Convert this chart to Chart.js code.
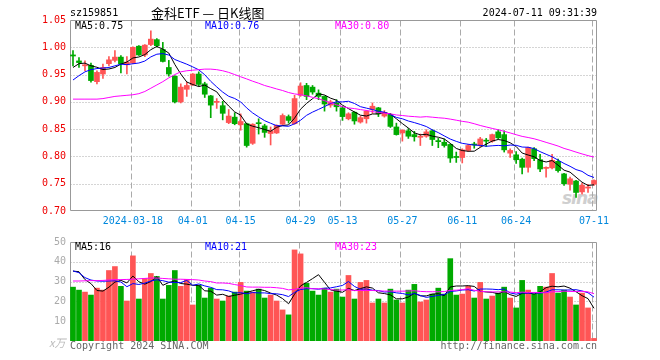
<!DOCTYPE html>
<html>
<head>
<meta charset="utf-8">
<script src="https://cdn.jsdelivr.net/npm/chart.js@4.4.1/dist/chart.umd.min.js"></script>
<style>
  body { margin: 0; background: #fff; }
  #wrap { position: relative; width: 660px; height: 360px; overflow: hidden; background: #fff;
          font: 10px 'DejaVu Sans Mono', monospace; color: #000; }
  .t { position: absolute; white-space: pre; line-height: 12px; }
  canvas { position: absolute; left: 0; }
</style>
</head>
<body>
<div id="wrap">
  <div class="t" style="left:562px;top:188px;font:italic bold 17px 'DejaVu Sans',sans-serif;line-height:20px;color:#cfcfcf;letter-spacing:-1px">sina</div>
  <canvas id="kline" width="660" height="230" style="top:0"></canvas>
  <canvas id="vol" width="660" height="128" style="top:232px"></canvas>

  <div class="t" style="left:70px;top:7px">sz159851</div>
  <div class="t" style="left:151px;top:5px;font:13px 'Noto Sans CJK SC',sans-serif;line-height:16px">金科ETF — 日K线图</div>
  <div class="t" style="right:63px;top:7px">2024-07-11 09:31:39</div>

  <div class="t" style="left:75px;top:20px;color:#000">MA5:0.75</div>
  <div class="t" style="left:205px;top:20px;color:#0000ff">MA10:0.76</div>
  <div class="t" style="left:335px;top:20px;color:#ff00ff">MA30:0.80</div>

  <div class="t" style="left:75px;top:241px;color:#000">MA5:16</div>
  <div class="t" style="left:205px;top:241px;color:#0000ff">MA10:21</div>
  <div class="t" style="left:335px;top:241px;color:#ff00ff">MA30:23</div>

  <div class="t" style="left:49px;top:336px;font:italic 11px 'Noto Sans CJK SC',sans-serif;line-height:13px;color:#bbb">x万</div>
  <div class="t" style="left:70px;top:340px;color:#666">Copyright 2024 SINA.COM</div>
  <div class="t" style="right:63px;top:340px;color:#666">http://finance.sina.com.cn</div>
</div>
<script>
// trading days shown
const dates = [
  '2024-03-04','2024-03-05','2024-03-06','2024-03-07','2024-03-08',
  '2024-03-11','2024-03-12','2024-03-13','2024-03-14','2024-03-15',
  '2024-03-18','2024-03-19','2024-03-20','2024-03-21','2024-03-22',
  '2024-03-25','2024-03-26','2024-03-27','2024-03-28','2024-03-29',
  '2024-04-01','2024-04-02','2024-04-03','2024-04-08','2024-04-09',
  '2024-04-10','2024-04-11','2024-04-12','2024-04-15','2024-04-16',
  '2024-04-17','2024-04-18','2024-04-19','2024-04-22','2024-04-23',
  '2024-04-24','2024-04-25','2024-04-26','2024-04-29','2024-04-30',
  '2024-05-06','2024-05-07','2024-05-08','2024-05-09','2024-05-10',
  '2024-05-13','2024-05-14','2024-05-15','2024-05-16','2024-05-17',
  '2024-05-20','2024-05-21','2024-05-22','2024-05-23','2024-05-24',
  '2024-05-27','2024-05-28','2024-05-29','2024-05-30','2024-05-31',
  '2024-06-03','2024-06-04','2024-06-05','2024-06-06','2024-06-07',
  '2024-06-11','2024-06-12','2024-06-13','2024-06-14','2024-06-17',
  '2024-06-18','2024-06-19','2024-06-20','2024-06-21','2024-06-24',
  '2024-06-25','2024-06-26','2024-06-27','2024-06-28','2024-07-01',
  '2024-07-02','2024-07-03','2024-07-04','2024-07-05','2024-07-08',
  '2024-07-09','2024-07-10','2024-07-11'
];
const tickDates = ['2024-03-18','2024-04-01','2024-04-15','2024-04-29','2024-05-13','2024-05-27','2024-06-11','2024-06-24','2024-07-11'];
const tickLabels = ['2024-03-18','04-01','04-15','04-29','05-13','05-27','06-11','06-24','07-11'];

const opens = [
  0.986,0.975,0.966,0.967,0.937,0.951,0.970,0.976,0.982,0.968,
  0.971,1.002,0.986,1.005,1.014,0.996,0.963,0.947,0.900,0.923,
  0.931,0.951,0.933,0.911,0.899,0.893,0.862,0.872,0.858,0.860,
  0.824,0.861,0.856,0.842,0.843,0.859,0.873,0.860,0.912,0.930,
  0.927,0.916,0.910,0.894,0.898,0.889,0.869,0.881,0.863,0.869,
  0.886,0.889,0.874,0.877,0.854,0.843,0.847,0.840,0.835,0.837,
  0.847,0.829,0.826,0.822,0.800,0.798,0.811,0.822,0.820,0.829,
  0.828,0.845,0.840,0.806,0.803,0.795,0.780,0.814,0.794,0.778,
  0.779,0.791,0.768,0.749,0.755,0.735,0.742,0.749
];
const highs = [
  0.994,0.981,0.975,0.971,0.957,0.969,0.983,0.994,0.985,0.983,
  1.001,1.003,1.005,1.030,1.016,1.009,0.976,0.948,0.933,0.936,
  0.952,0.955,0.936,0.912,0.906,0.901,0.886,0.880,0.878,0.861,
  0.860,0.869,0.859,0.854,0.858,0.878,0.876,0.912,0.935,0.934,
  0.930,0.922,0.911,0.903,0.904,0.892,0.880,0.882,0.874,0.884,
  0.898,0.890,0.884,0.879,0.861,0.849,0.851,0.846,0.841,0.849,
  0.849,0.833,0.832,0.823,0.808,0.814,0.822,0.826,0.835,0.833,
  0.841,0.849,0.847,0.814,0.809,0.797,0.817,0.816,0.804,0.781,
  0.804,0.795,0.769,0.762,0.756,0.751,0.749,0.757
];
const lows = [
  0.966,0.963,0.957,0.936,0.933,0.943,0.966,0.973,0.953,0.951,
  0.970,0.985,0.983,1.003,1.000,0.973,0.947,0.898,0.898,0.910,
  0.930,0.929,0.908,0.871,0.888,0.867,0.860,0.858,0.848,0.817,
  0.822,0.841,0.835,0.821,0.842,0.857,0.861,0.859,0.910,0.904,
  0.914,0.904,0.883,0.890,0.883,0.866,0.867,0.859,0.861,0.861,
  0.879,0.873,0.872,0.853,0.839,0.828,0.833,0.828,0.820,0.835,
  0.820,0.816,0.817,0.789,0.789,0.788,0.809,0.815,0.818,0.818,
  0.826,0.832,0.808,0.798,0.787,0.768,0.771,0.792,0.772,0.762,
  0.777,0.771,0.747,0.738,0.725,0.731,0.734,0.747
];
const closes = [
  0.984,0.972,0.968,0.939,0.954,0.963,0.977,0.982,0.970,0.973,
  1.000,0.986,1.004,1.015,1.003,0.974,0.951,0.900,0.927,0.930,
  0.951,0.932,0.914,0.894,0.901,0.879,0.874,0.860,0.864,0.820,
  0.859,0.860,0.844,0.847,0.857,0.875,0.866,0.906,0.929,0.910,
  0.918,0.910,0.896,0.900,0.891,0.873,0.878,0.865,0.871,0.883,
  0.892,0.878,0.880,0.855,0.840,0.848,0.837,0.836,0.837,0.845,
  0.831,0.827,0.820,0.797,0.798,0.812,0.820,0.821,0.832,0.828,
  0.840,0.834,0.812,0.811,0.794,0.780,0.816,0.796,0.777,0.780,
  0.793,0.774,0.750,0.759,0.734,0.747,0.744,0.756
];
// volume, 万手
const volumes = [
  27.2,25.7,24.7,23.2,26.7,25.7,35.6,37.6,27.6,20.2,
  43.0,21.2,31.6,34.1,32.6,21.2,28.1,35.6,27.6,31.1,
  18.2,28.1,21.7,26.7,21.2,20.2,22.7,24.7,29.6,25.2,
  24.7,26.2,21.7,23.2,20.2,15.7,13.2,46.0,44.0,29.1,
  25.2,23.2,26.7,24.7,26.2,22.2,33.1,21.2,29.6,30.6,
  19.2,21.2,19.2,26.2,20.7,19.2,25.7,28.6,19.7,20.7,
  23.7,26.7,23.7,41.6,23.2,23.7,27.6,21.7,29.6,21.2,
  22.7,24.2,27.2,21.7,16.7,30.6,25.7,23.7,27.6,27.2,
  34.1,24.2,25.7,22.2,18.2,24.2,16.7,1.3
];

// MA values for days whose window starts before 03-04
const ma5Head = [0.963, 0.970, 0.971, 0.966];
const ma10Head = [0.940, 0.948, 0.955, 0.959, 0.961, 0.962, 0.963, 0.966, 0.969];
const ma30Head = [0.905,0.905,0.905,0.905,0.905,0.906,0.908,0.910,0.911,0.912,
                  0.913,0.915,0.919,0.925,0.931,0.937,0.944,0.950,0.955,0.957,
                  0.958,0.959,0.960,0.960,0.959,0.957,0.954,0.950,0.946];
const volMa5Head = [35.3, 35.0, 31.0, 29.0];
const volMa10Head = [35.4, 34.5, 32.0, 30.8, 30.3, 30.2, 30.3, 30.4, 29.8];
const volMa30Head = [30.3,30.3,30.4,30.5,30.5,30.6,30.8,31.0,31.0,31.1,
                     31.2,31.4,31.6,31.8,31.8,31.6,31.4,31.2,31.2,31.1,
                     31.0,30.8,30.3,30.0,29.3,29.3,29.1,28.5,28.0];

const UP = '#ff5555', DOWN = '#00aa00';
const tickIdx = tickDates.map(d => dates.indexOf(d));

function movingAvg(src, n, head) {
  return src.map((_, i) => {
    if (i < n - 1) return head[i];
    let s = 0;
    for (let k = i - n + 1; k <= i; k++) s += src[k];
    return s / n;
  });
}

const colors = closes.map((c, i) => c >= opens[i] ? UP : DOWN);

// grid + frame, drawn under the bars
const frame = {
  id: 'frame',
  beforeDatasetsDraw(chart, args, opts) {
    const { ctx, chartArea: a, scales: { x, y } } = chart;
    const L = Math.round(a.left) + 0.5, R = Math.round(a.right) - 0.5;
    const T = Math.round(a.top) + 0.5, B = Math.round(a.bottom) - 0.5;
    ctx.save();
    ctx.lineWidth = 1;
    ctx.strokeStyle = '#aaa';
    ctx.setLineDash([1, 2]);
    y.ticks.forEach(t => {
      const py = Math.round(y.getPixelForValue(t.value)) + 0.5;
      if (py <= T + 2 || py >= B - 2) return;
      ctx.beginPath(); ctx.moveTo(L, py); ctx.lineTo(R, py); ctx.stroke();
    });
    ctx.setLineDash([6, 3]);
    tickIdx.forEach(i => {
      const px = Math.round(x.getPixelForValue(i)) - 1.5;
      ctx.beginPath(); ctx.moveTo(px, T); ctx.lineTo(px, B); ctx.stroke();
    });
    ctx.setLineDash([]);
    ctx.strokeStyle = '#999';
    ctx.beginPath();
    ctx.moveTo(L, B); ctx.lineTo(L, T); ctx.lineTo(R, T); ctx.lineTo(R, B);
    if (opts.bottom) ctx.lineTo(L, B);
    ctx.stroke();
    ctx.restore();
  }
};

const lineDs = (data, color) => ({
  type: 'line', data, borderColor: color, borderWidth: 1,
  pointRadius: 0, tension: 0, order: 0
});

const monoFont = { family: "'DejaVu Sans Mono', monospace", size: 10 };

new Chart(document.getElementById('kline'), {
  type: 'bar',
  data: {
    labels: dates,
    datasets: [
      { data: lows.map((l, i) => [l, highs[i]]), backgroundColor: colors,
        barThickness: 1, grouped: false, order: 3 },
      { data: opens.map((o, i) => [o, closes[i]]), backgroundColor: colors,
        barThickness: 5, minBarLength: 1, grouped: false, order: 2 },
      lineDs(movingAvg(closes, 30, ma30Head), '#ff00ff'),
      lineDs(movingAvg(closes, 10, ma10Head), '#0000ff'),
      lineDs(movingAvg(closes, 5, ma5Head), '#000000')
    ]
  },
  options: {
    responsive: false, animation: false, devicePixelRatio: 1,
    layout: { padding: { left: 0, right: 63, top: 20, bottom: 0 } },
    plugins: { legend: { display: false }, tooltip: { enabled: false }, frame: { bottom: true } },
    scales: {
      x: {
        type: 'category', offset: true,
        grid: { display: false, drawTicks: false }, border: { display: false },
        ticks: {
          autoSkip: false, maxRotation: 0, padding: 4, color: '#0088dd', font: monoFont,
          callback: (v, i) => { const k = tickIdx.indexOf(i); return k >= 0 ? tickLabels[k] : ''; }
        },
        afterFit: s => { s.height = 19; }
      },
      y: {
        min: 0.70, max: 1.05,
        grid: { display: false, drawTicks: false }, border: { display: false },
        ticks: { stepSize: 0.05, padding: 4, color: '#ee0000', font: monoFont,
                 callback: v => v.toFixed(2) },
        afterFit: s => { s.width = 70; }
      }
    }
  },
  plugins: [frame]
});

new Chart(document.getElementById('vol'), {
  type: 'bar',
  data: {
    labels: dates,
    datasets: [
      { data: volumes, backgroundColor: colors, barThickness: 5, grouped: false, order: 2 },
      lineDs(movingAvg(volumes, 30, volMa30Head), '#ff00ff'),
      lineDs(movingAvg(volumes, 10, volMa10Head), '#0000ff'),
      lineDs(movingAvg(volumes, 5, volMa5Head), '#000000')
    ]
  },
  options: {
    responsive: false, animation: false, devicePixelRatio: 1,
    layout: { padding: { left: 0, right: 63, top: 8, bottom: 19 } },
    plugins: { legend: { display: false }, tooltip: { enabled: false }, frame: { bottom: false } },
    scales: {
      x: {
        type: 'category', offset: true,
        grid: { display: false, drawTicks: false }, border: { display: false },
        ticks: { display: false },
        afterFit: s => { s.height = 0; }
      },
      y: {
        min: 0, max: 50,
        grid: { display: false, drawTicks: false }, border: { display: false },
        ticks: { stepSize: 10, padding: 4, color: '#aaa', font: monoFont,
                 callback: v => v === 0 ? '' : v },
        afterFit: s => { s.width = 70; }
      }
    }
  },
  plugins: [frame]
});
</script>
</body>
</html>
